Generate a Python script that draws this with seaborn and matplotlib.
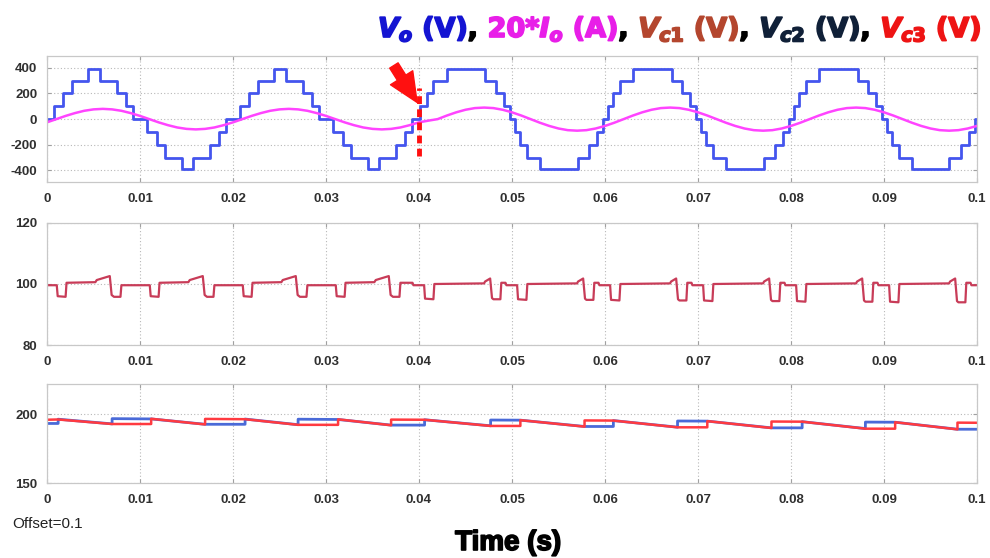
import numpy as np
import pandas as pd
import matplotlib
matplotlib.use("Agg")
import matplotlib.pyplot as plt
import matplotlib.patheffects as pe
import seaborn as sns

# ---------------- data ----------------
# Output voltage Vo: switching instants (ms) and level held after each instant (V)
vo_t_ms = [0, 0.75, 1.75, 2.65, 4.45, 5.75, 7.5, 8.45, 9.3, 10.8, 11.8, 12.7, 14.5, 15.75, 17.5, 18.45, 19.3,
           20.75, 21.75, 22.65, 24.45, 25.75, 27.5, 28.45, 29.3, 30.8, 31.8, 32.7, 34.5, 35.75, 37.5, 38.45, 39.3,
           40.1, 40.85, 41.55, 43.0, 47.1, 48.3, 49.15, 49.8, 50.3, 50.9, 51.6, 53.0, 57.1, 58.3, 59.15, 59.8,
           60.3, 60.9, 61.6, 63.0, 67.2, 68.3, 69.15, 69.8, 70.3, 70.9, 71.6, 73.0, 77.1, 78.3, 79.15, 79.8,
           80.3, 80.9, 81.6, 83.0, 87.2, 88.3, 89.15, 89.8, 90.3, 90.9, 91.6, 93.0, 97.0, 98.3, 99.15, 99.8, 100]
vo_v = [0, 100, 200, 300, 390, 300, 200, 100, 0, -100, -200, -300, -390, -300, -200, -100, 0,
        100, 200, 300, 390, 300, 200, 100, 0, -100, -200, -300, -390, -300, -200, -100, 0,
        100, 200, 300, 390, 300, 200, 100, 0, -100, -200, -300, -390, -300, -200, -100, 0,
        100, 200, 300, 390, 300, 200, 100, 0, -100, -200, -300, -390, -300, -200, -100, 0,
        100, 200, 300, 390, 300, 200, 100, 0, -100, -200, -300, -390, -300, -200, -100, 0, 0]

# 20*Io sampled every 1 ms
io_t_ms = list(range(0, 101))
io20_v = [-25, 0, 25, 47, 65, 76, 80, 76, 65, 47, 25, 0, -25, -47, -65, -76, -80, -76, -65, -47,
          -25, 0, 25, 47, 65, 76, 80, 76, 65, 47, 25, 0, -25, -47, -65, -76, -80, -76, -65, -47,
          -25, -12,
          0, 28, 53, 73, 86, 90, 86, 73, 53, 28, 0, -28, -53, -73, -86, -90, -86, -73, -53, -28,
          0, 28, 53, 73, 86, 90, 86, 73, 53, 28, 0, -28, -53, -73, -86, -90, -86, -73, -53, -28,
          0, 28, 53, 73, 86, 90, 86, 73, 53, 28, 0, -28, -53, -73, -86, -90, -86, -73, -53]

# Vc1 vertices
vc1_t_ms = [0, 1.05, 1.15, 2.0, 2.1, 5.2, 5.35, 6.75, 6.95, 7.2, 7.9, 8.0,
            11.05, 11.15, 12.0, 12.1, 15.2, 15.35, 16.75, 16.95, 17.2, 17.9, 18.0,
            21.05, 21.15, 22.0, 22.1, 25.2, 25.35, 26.75, 26.95, 27.2, 27.9, 28.0,
            31.05, 31.15, 32.0, 32.1, 35.2, 35.35, 36.75, 36.95, 37.2, 37.9, 38.0, 39.3, 39.4,
            40.55, 40.65, 41.55, 41.65, 47.0, 47.1, 47.65, 47.85, 48.0, 48.75, 48.85, 49.3, 49.4,
            50.55, 50.65, 51.55, 51.65, 57.0, 57.1, 57.65, 57.85, 58.0, 58.75, 58.85, 59.3, 59.4,
            60.55, 60.65, 61.55, 61.65, 67.0, 67.1, 67.65, 67.85, 68.0, 68.75, 68.85, 69.3, 69.4,
            70.55, 70.65, 71.55, 71.65, 77.0, 77.1, 77.65, 77.85, 78.0, 78.75, 78.85, 79.3, 79.4,
            80.55, 80.65, 81.55, 81.65, 87.0, 87.1, 87.65, 87.85, 88.0, 88.75, 88.85, 89.3, 89.4,
            90.55, 90.65, 91.55, 91.65, 97.0, 97.1, 97.65, 97.85, 98.0, 98.75, 98.85, 99.3, 99.4, 100]
vc1_v = [99.6, 99.6, 96.0, 95.8, 100.4, 100.6, 101.3, 102.6, 96.4, 95.8, 95.8, 99.6,
         99.6, 96.0, 95.8, 100.4, 100.6, 101.3, 102.6, 96.4, 95.8, 95.8, 99.6,
         99.6, 96.0, 95.8, 100.4, 100.6, 101.3, 102.6, 96.4, 95.8, 95.8, 99.6,
         99.6, 96.0, 95.8, 100.4, 100.6, 101.3, 102.6, 96.4, 95.8, 95.8, 100.4, 100.4, 99.6,
         99.6, 95.2, 95.0, 100.0, 100.2, 100.8, 101.8, 95.4, 95.0, 95.0, 100.4, 100.4, 99.6,
         99.6, 95.0, 94.8, 100.0, 100.2, 100.8, 101.8, 95.2, 94.8, 94.8, 100.4, 100.4, 99.6,
         99.6, 94.8, 94.6, 100.0, 100.2, 100.8, 101.8, 95.0, 94.6, 94.6, 100.4, 100.4, 99.6,
         99.6, 94.6, 94.4, 100.0, 100.2, 100.8, 101.8, 94.8, 94.4, 94.4, 100.4, 100.4, 99.6,
         99.6, 94.4, 94.2, 100.0, 100.2, 100.8, 101.8, 94.6, 94.2, 94.2, 100.4, 100.4, 99.6,
         99.6, 94.2, 94.0, 100.0, 100.2, 100.8, 101.8, 94.4, 94.0, 94.0, 100.4, 100.4, 99.6, 99.6]

# Vc2 (blue) vertices
vc2_t_ms = [0, 1.2, 1.2, 7.0, 7.0, 11.2, 17.0, 21.3, 21.3, 27.0, 27.0, 31.3, 37.0, 40.6, 40.6, 47.7,
            47.7, 50.9, 57.8, 60.9, 60.9, 67.8, 67.8, 71.0, 77.9, 81.2, 81.2, 88.0, 88.0, 91.2, 97.9, 100]
vc2_v = [193.3, 193.3, 196.4, 193.0, 196.8, 196.6, 192.7, 192.7, 196.5, 192.4, 196.4, 196.2, 192.1, 192.1,
         196.0, 191.6, 195.8, 195.7, 191.1, 191.1, 195.4, 190.6, 195.1, 195.0, 190.1, 190.1, 194.6, 189.6,
         194.3, 194.2, 189.1, 189.1]

# Vc3 (red) vertices
vc3_t_ms = [0, 1.2, 7.0, 11.2, 11.2, 17.0, 17.0, 21.3, 27.0, 31.3, 31.3, 37.0, 37.0, 40.6, 47.7, 50.9,
            50.9, 57.8, 57.8, 60.9, 67.8, 71.0, 71.0, 77.9, 77.9, 81.2, 88.0, 91.2, 91.2, 97.9, 97.9, 100]
vc3_v = [196.0, 196.2, 192.9, 192.9, 196.7, 192.6, 196.6, 196.4, 192.3, 192.3, 196.3, 192.0, 196.1, 196.0,
         191.5, 191.5, 195.7, 191.0, 195.5, 195.4, 190.5, 190.5, 195.0, 190.0, 194.7, 194.6, 189.5, 189.5,
         194.2, 189.0, 193.9, 193.8]

# annotation: change instant, dashed marker span and arrow (time s, value)
event_t = 0.04
event_span = [-285, 240]
arrow_from = (0.0373, 418)
arrow_to = (0.0398, 130)

x_ticks = [0, 0.01, 0.02, 0.03, 0.04, 0.05, 0.06, 0.07, 0.08, 0.09, 0.1]
x_ticklabels = ["0", "0.01", "0.02", "0.03", "0.04", "0.05", "0.06", "0.07", "0.08", "0.09", "0.1"]
top_yticks = [-400, -200, 0, 200, 400]
mid_yticks = [80, 100, 120]
bot_yticks = [150, 200]

title_pieces = [(r"$V_{o}$ (V)", "#1414d2"), (",", "black"),
                (r"20*$I_{o}$ (A)", "#e81ee8"), (",", "black"),
                (r"$V_{c1}$ (V)", "#b4462e"), (",", "black"),
                (r"$V_{c2}$ (V)", "#102038"), (",", "black"),
                (r"$V_{c3}$ (V)", "#ee1414")]

# ---------------- styling ----------------
sns.set_theme(style="white")
plt.rcParams["font.family"] = ["Liberation Sans", "DejaVu Sans"]
plt.rcParams["mathtext.fontset"] = "custom"
plt.rcParams["mathtext.it"] = "DejaVu Sans:italic:bold"
plt.rcParams["mathtext.rm"] = "DejaVu Sans:bold"
plt.rcParams["mathtext.bf"] = "DejaVu Sans:bold"

W, H = 990, 558
fig = plt.figure(figsize=(W / 100, H / 100), dpi=100)
fig.patch.set_facecolor("white")


def px_axes(left, top, right, bottom):
    return fig.add_axes([left / W, 1 - bottom / H, (right - left) / W, (bottom - top) / H])


ax1 = px_axes(47, 56, 977, 182)
ax2 = px_axes(47, 223, 977, 345)
ax3 = px_axes(47, 384, 977, 483)


def ms(a):
    return np.asarray(a, dtype=float) / 1000.0


# top panel
sns.lineplot(x=ms(vo_t_ms), y=vo_v, ax=ax1, color="#4455ee", linewidth=2.0,
             estimator=None, sort=False, drawstyle="steps-post", legend=False)
sns.lineplot(x=ms(io_t_ms), y=io20_v, ax=ax1, color="#ff44ff", linewidth=1.8,
             estimator=None, sort=False, legend=False)
ax1.vlines(event_t, event_span[0], event_span[1], colors="#ff1010", linewidth=3.5,
           linestyles=(0, (1.6, 1.1)), zorder=5)
ax1.annotate("", xy=arrow_to, xytext=arrow_from,
             arrowprops=dict(arrowstyle="simple,head_length=1.0,head_width=0.9,tail_width=0.34",
                             color="#ff1010", mutation_scale=21, shrinkA=0, shrinkB=0),
             zorder=6)

# middle panel
sns.lineplot(x=ms(vc1_t_ms), y=vc1_v, ax=ax2, color="#c83c58", linewidth=1.6,
             estimator=None, sort=False, legend=False)

# bottom panel
sns.lineplot(x=ms(vc2_t_ms), y=vc2_v, ax=ax3, color="#4a6ad8", linewidth=2.0,
             estimator=None, sort=False, legend=False)
sns.lineplot(x=ms(vc3_t_ms), y=vc3_v, ax=ax3, color="#ff3a40", linewidth=1.8,
             estimator=None, sort=False, legend=False)


def style(ax, ylim, yticks):
    ax.set_xlim(0, 0.1)
    ax.set_ylim(*ylim)
    ax.set_xticks(x_ticks)
    ax.set_xticklabels(x_ticklabels)
    ax.set_yticks(yticks)
    ax.set_yticklabels([str(v) for v in yticks])
    ax.set_xlabel("")
    ax.set_ylabel("")
    ax.set_facecolor("white")
    ax.grid(True, linestyle=(0, (1, 2)), color="#b8b8b8", linewidth=0.8)
    for s in ax.spines.values():
        s.set_visible(True)
        s.set_color("#c8c8c8")
        s.set_linewidth(0.9)
    ax.tick_params(axis="both", direction="in", length=3, width=0.8, color="#a0a0a0",
                   bottom=True, left=True, top=True, right=True,
                   labelsize=9.5, labelcolor="#303030")
    ax.tick_params(axis="x", pad=8)
    ax.tick_params(axis="y", pad=7)
    for lab in ax.get_xticklabels() + ax.get_yticklabels():
        lab.set_fontweight("bold")


style(ax1, (-490, 492), top_yticks)
style(ax2, (80, 120), mid_yticks)
style(ax3, (150, 222), bot_yticks)

# ---------------- texts ----------------
renderer = fig.canvas.get_renderer()
title_y = 1 - 37 / H


def place_title(fs, x0):
    texts = []
    x = x0
    for s, c in title_pieces:
        t = fig.text(x / W, title_y, s, color=c, fontsize=fs, fontweight="bold",
                     family="DejaVu Sans", ha="left", va="baseline",
                     path_effects=[pe.withStroke(linewidth=1.3, foreground=c)])
        bb = t.get_window_extent(renderer)
        x = bb.x1 + (fs * 0.5 if s == "," else 0.0)
        texts.append(t)
    return texts, x


x_start, x_end = 378, 981
tx, xe = place_title(20, x_start)
scale = (x_end - x_start) / (xe - x_start)
for t in tx:
    t.remove()
place_title(20 * scale, x_start)

fig.text(508 / W, 1 - 550 / H, "Time (s)", ha="center", va="baseline", fontsize=20,
         fontweight="bold", family="Liberation Sans", color="black",
         path_effects=[pe.withStroke(linewidth=1.2, foreground="black")])
fig.text(12 / W, 1 - 528 / H, "Offset=0.1", ha="left", va="baseline", fontsize=11,
         color="#222222", family="Liberation Sans")

fig.savefig("out.png", dpi=100, facecolor="white")
